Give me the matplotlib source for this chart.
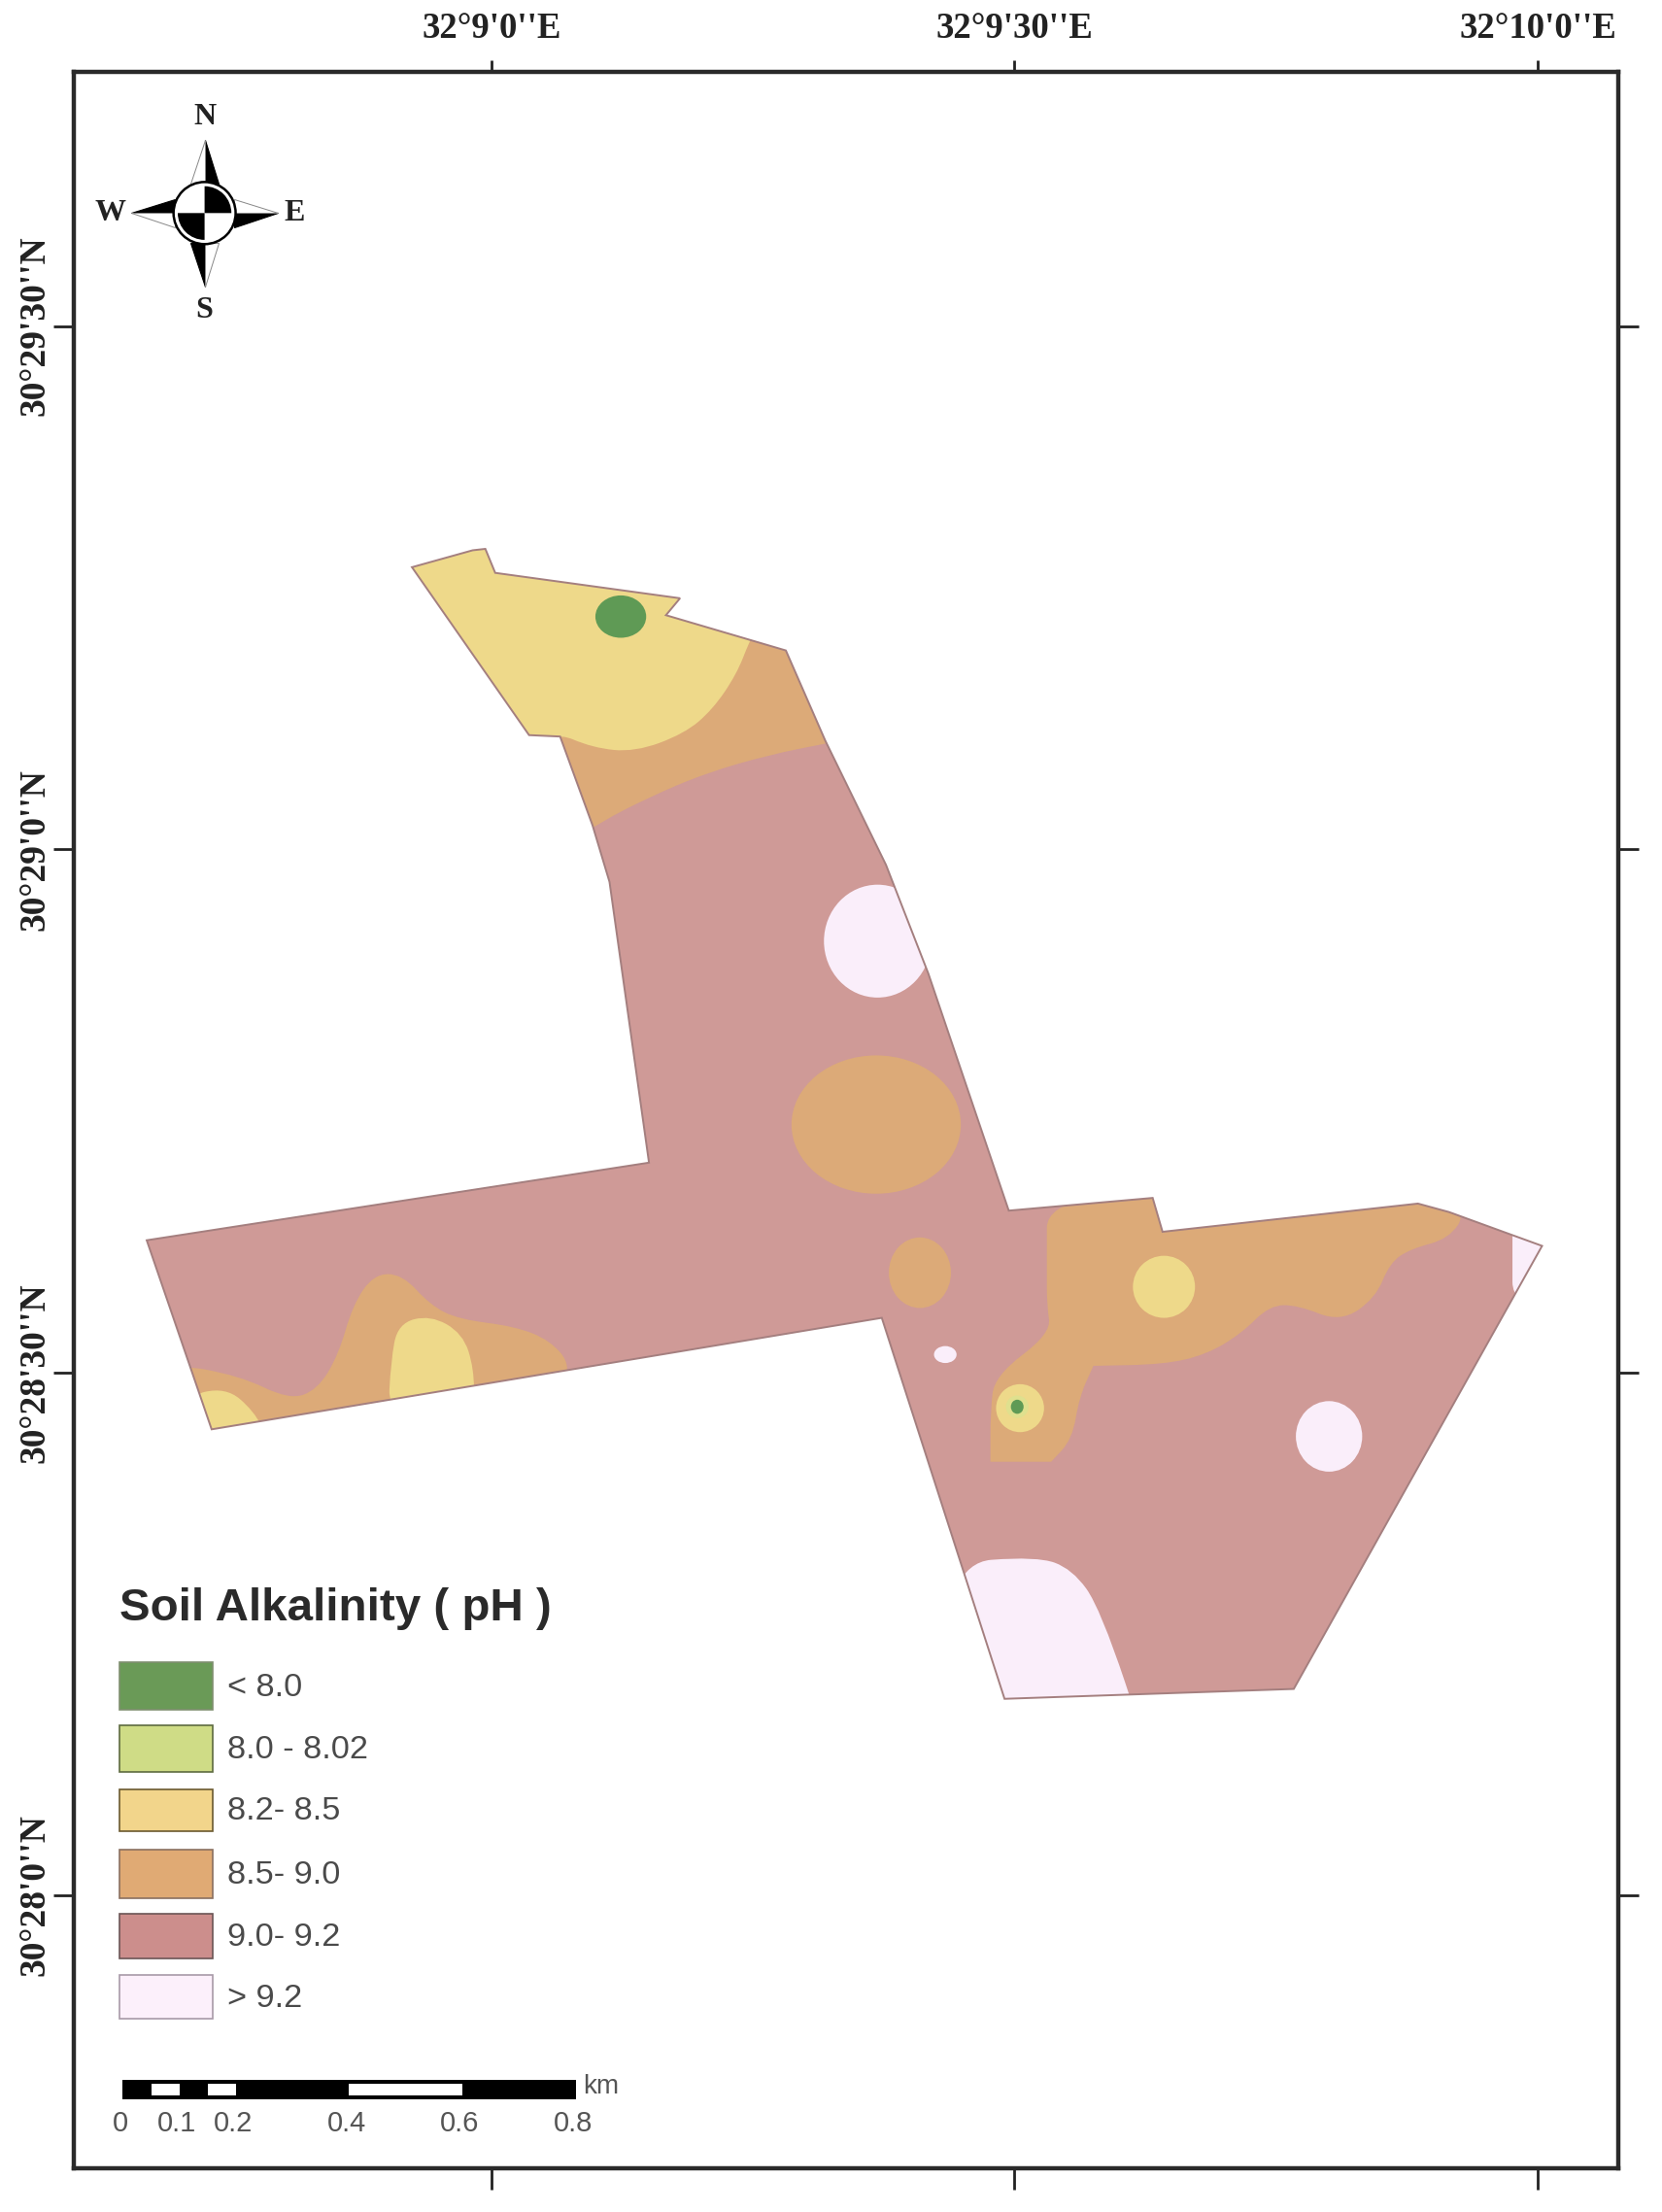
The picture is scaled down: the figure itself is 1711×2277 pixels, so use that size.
import matplotlib
matplotlib.use("Agg")
import numpy as np
import matplotlib.pyplot as plt
from matplotlib.path import Path
from matplotlib.patches import Polygon, PathPatch, Ellipse, Rectangle, Circle, Wedge

frame = (52, 1147, 1537, 51)
pic_w, pic_h = 1178, 1567.7

lon_ticks = [348.5, 719, 1090]
lon_labels = ["32°9'0''E", "32°9'30''E", "32°10'0''E"]
lat_ticks = [231, 602, 973, 1343]
lat_labels = ["30°29'30''N", "30°29'0''N", "30°28'30''N", "30°28'0''N"]

legend_title = "Soil Alkalinity ( pH )"
classes = ["< 8.0", "8.0 - 8.02", "8.2- 8.5", "8.5- 9.0", "9.0- 9.2", "> 9.2"]
swatch_top = [1178, 1223, 1268, 1311, 1356, 1400]
swatch_bottom = [1212, 1256, 1298, 1345, 1388, 1431]
swatch_colors = ["#6a9a57", "#cfdc86", "#f2d58b", "#e0aa74", "#cc8e8c", "#fcf0fb"]
swatch_edges = ["#7f8f70", "#5d6b40", "#6b5a30", "#8a7060", "#6b5555", "#a89aa8"]

col_green, col_lime, col_yellow, col_orange, col_rose, col_pale = (
    "#5f9a55", "#dfe08e", "#eed98a", "#dcaa78", "#cf9a97", "#faeefa")

field_x = [292, 335, 344, 351, 482, 472, 557, 585, 628, 658, 715, 817, 824, 1005, 1027, 1093,
           917, 712, 625, 150, 104, 460, 432, 420, 397, 375]
field_y = [402, 390, 389, 406, 424, 436, 461, 525, 613, 690, 858, 849, 873, 853, 859, 883,
           1197, 1204, 934, 1013, 879, 824, 625, 585, 522, 521]

north_x = [270, 545, 531, 522, 505, 485, 450, 420, 392, 350, 260]
north_y = [370, 425, 455, 478, 503, 520, 533, 530, 518, 540, 420]

band_n_x = [370, 610, 610, 585, 545, 500, 460, 425, 400, 370]
band_n_y = [490, 430, 522, 527, 535, 548, 565, 583, 600, 560]

band_se_x = [742, 742, 1005, 1040, 1027, 1000, 985, 975, 950, 920, 900, 880, 855, 825, 775, 775, 765, 760,
             745, 745, 702, 702, 702, 705, 745, 742]
band_se_y = [900, 840, 840, 858, 878, 885, 895, 920, 937, 925, 925, 945, 960, 967, 968, 968, 990, 1020,
             1036, 1036, 1036, 1036, 1000, 975, 945, 925]

band_w_x = [120, 170, 205, 225, 240, 250, 265, 285, 305, 325, 365, 390, 405, 395, 220, 140, 120]
band_w_y = [966, 975, 992, 985, 960, 925, 903, 903, 925, 935, 940, 950, 968, 990, 1030, 1030, 990]

yellow_w_x = [277, 282, 305, 328, 336, 336, 275]
yellow_w_y = [965, 938, 932, 945, 970, 1000, 1005]

corner_w_x = [130, 160, 180, 190, 150]
corner_w_y = [990, 983, 1000, 1020, 1025]

pale_s_x = [670, 735, 760, 780, 815, 815, 660]
pale_s_y = [1108, 1103, 1112, 1140, 1245, 1260, 1260]

pale_ne_x = [1072, 1072, 1120, 1120, 1072, 1072]
pale_ne_y = [892, 860, 860, 925, 925, 892]

# blobs: centre x, centre y, width, height
orange_blobs = [(621, 797, 120, 98), (652, 902, 44, 50)]
yellow_blobs = [(825, 912, 44, 44), (723, 998, 34, 34)]
lime_blobs = [(721, 997, 16, 16)]
green_blobs = [(440, 437, 36, 30), (721, 997, 9, 10)]
pale_blobs = [(622, 667, 76, 80), (942, 1018, 47, 50), (670, 960, 16, 12)]

km_ticks = [0, 0.1, 0.2, 0.4, 0.6, 0.8]
km_white = [(0.05, 0.1), (0.15, 0.2), (0.4, 0.6)]

fig = plt.figure(figsize=(17.11, 22.77), dpi=100)
ax = fig.add_axes([frame[0] / pic_w, 1 - frame[2] / pic_h,
                   (frame[1] - frame[0]) / pic_w, (frame[2] - frame[3]) / pic_h])
ax.set_xlim(frame[0], frame[1])
ax.set_ylim(frame[2], frame[3])

serif = ["Liberation Serif", "DejaVu Serif"]
sans = ["Liberation Sans", "DejaVu Sans"]

# frame and graticule ticks
for s in ax.spines.values():
    s.set_linewidth(3.2)
    s.set_color("#2a2a2a")
ax.set_xticks(lon_ticks, lon_labels, fontfamily=serif, fontweight="bold", fontsize=26.5)
ax.set_yticks(lat_ticks, lat_labels, fontfamily=serif, fontweight="bold", fontsize=27,
              rotation=90, va="center")
ax.tick_params(axis="x", top=True, bottom=True, labeltop=True, labelbottom=False,
               length=8.4, width=2, color="#222222", labelcolor="#222222", pad=11)
ax.tick_params(axis="y", left=True, right=True, length=15, width=2, color="#222222",
               labelcolor="#222222", pad=1)
for t in ax.xaxis.get_major_ticks():
    t.tick1line.set_markersize(16)

# study area, class zones are clipped to it
field = Polygon(np.column_stack([field_x, field_y]), closed=True, facecolor=col_rose, edgecolor="none", zorder=1)
ax.add_patch(field)


def zone(xs, ys, color, z=2):
    # rounded outline, the vertices act as control points
    pts = np.column_stack([xs, ys]).astype(float)
    mids = (pts + np.roll(pts, -1, axis=0)) / 2
    verts = [mids[-1]]
    codes = [Path.MOVETO]
    for p, m in zip(pts, mids):
        verts += [p, m]
        codes += [Path.CURVE3, Path.CURVE3]
    p = PathPatch(Path(verts, codes), facecolor=color, edgecolor="none", zorder=z)
    ax.add_patch(p)
    p.set_clip_path(field)


def blobs(items, color, z):
    for cx, cy, w, h in items:
        e = Ellipse((cx, cy), w, h, facecolor=color, edgecolor="none", zorder=z)
        ax.add_patch(e)
        e.set_clip_path(field)


zone(band_n_x, band_n_y, col_orange)
zone(north_x, north_y, col_yellow, 3)
zone(band_se_x, band_se_y, col_orange)
zone(band_w_x, band_w_y, col_orange)
zone(yellow_w_x, yellow_w_y, col_yellow, 3)
zone(corner_w_x, corner_w_y, col_yellow, 3)
zone(pale_s_x, pale_s_y, col_pale, 3)
zone(pale_ne_x, pale_ne_y, col_pale, 3)
blobs(orange_blobs, col_orange, 2)
blobs(yellow_blobs, col_yellow, 3)
blobs(lime_blobs, col_lime, 4)
blobs(green_blobs, col_green, 5)
blobs(pale_blobs, col_pale, 3)

ax.add_patch(Polygon(np.column_stack([field_x, field_y]), closed=True, facecolor="none",
                     edgecolor="#a47f7f", linewidth=1.4, zorder=6))

# legend
ax.text(85, 1140, legend_title, fontfamily=sans, fontweight="bold", fontsize=34.2, color="#2a2a2a",
        ha="left", va="center")
for name, top, bot, c, ec in zip(classes, swatch_top, swatch_bottom, swatch_colors, swatch_edges):
    ax.add_patch(Rectangle((85, top), 66, bot - top, facecolor=c, edgecolor=ec, linewidth=1.2, zorder=2))
    ax.text(161, (top + bot) / 2 + 1, name, fontfamily=sans, fontsize=24.7, color="#4a4a4a", ha="left", va="center")

# scale bar
bar_x0, bar_len = 87, 321 / 0.8
ax.add_patch(Rectangle((bar_x0, 1474), 321, 14, facecolor="black", edgecolor="none", zorder=2))
for a, b in km_white:
    ax.add_patch(Rectangle((bar_x0 + a * bar_len, 1477), (b - a) * bar_len, 8, facecolor="white",
                           edgecolor="none", zorder=3))
for k in km_ticks:
    lab = "0" if k == 0 else f"{k:.1f}"
    ax.text(bar_x0 - 2 + k * bar_len, 1505, lab, fontfamily=sans, fontsize=21, color="#555555", ha="center", va="center")
ax.text(413, 1479, "km", fontfamily=sans, fontsize=20, color="#555555", ha="left", va="center")

# north arrow
cx, cy, r = 145, 151, 22
ax.add_patch(Circle((cx, cy), r, facecolor="white", edgecolor="black", linewidth=1.8, zorder=3))
# y axis is inverted: 270-360 is the upper right quadrant on the page
ax.add_patch(Wedge((cx, cy), r - 3, 270, 360, facecolor="black", zorder=4))
ax.add_patch(Wedge((cx, cy), r - 3, 90, 180, facecolor="black", zorder=4))

star_reach = 52
star_base = 10
for dx, dy in [(0, -1), (1, 0), (0, 1), (-1, 0)]:
    tip = (cx + dx * star_reach, cy + dy * star_reach)
    root = (cx + dx * (r - 1), cy + dy * (r - 1))
    px, py = -dy * star_base, dx * star_base
    ax.add_patch(Polygon([tip, root, (root[0] + px, root[1] + py)], closed=True, facecolor="black",
                         edgecolor="black", linewidth=0.8, zorder=2))
    ax.add_patch(Polygon([tip, root, (root[0] - px, root[1] - py)], closed=True, facecolor="white",
                         edgecolor="#888888", linewidth=0.7, zorder=2))
for lab, lx, ly in [("N", 145, 83), ("S", 145, 220), ("W", 78, 151), ("E", 209, 151)]:
    ax.text(lx, ly, lab, fontfamily=serif, fontweight="bold", fontsize=23, color="#222222", ha="center", va="center")

fig.savefig("out.png", dpi=100, facecolor="white")
